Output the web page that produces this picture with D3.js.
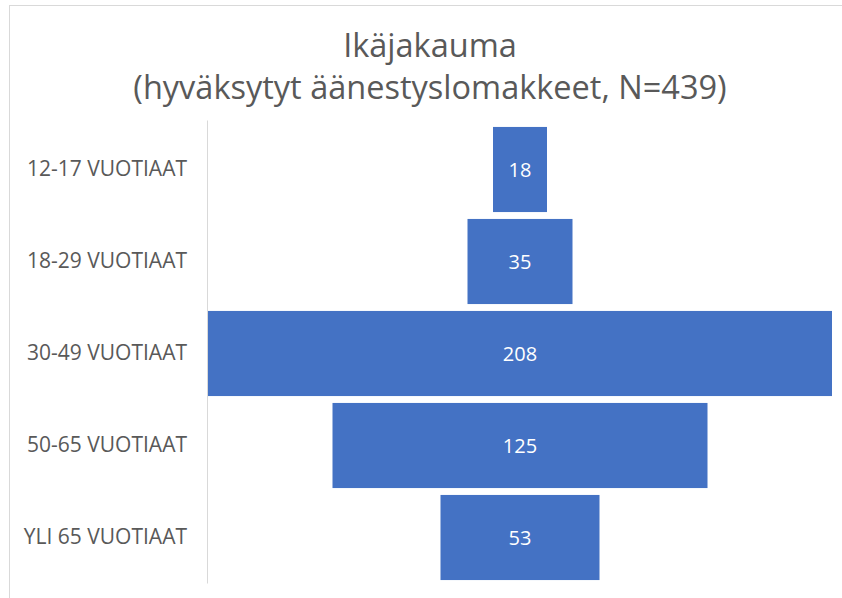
<!DOCTYPE html>
<html>
<head>
<meta charset="utf-8">
<script src="https://cdn.jsdelivr.net/npm/d3@7"></script>
<style>
  body{margin:0;background:#fff;}
  text{font-family:"Open Sans","Noto Sans",sans-serif;}
</style>
</head>
<body>
<div id="chart"></div>
<script>
// chart data
const categories=["12-17 VUOTIAAT","18-29 VUOTIAAT","30-49 VUOTIAAT","50-65 VUOTIAAT","YLI 65 VUOTIAAT"]
const values=[18,35,208,125,53]
const titleLines=["Ikäjakauma","(hyväksytyt äänestyslomakkeet, N=439)"]

const width=842
const height=598
const plotLeft=208, plotRight=832, plotTop=123.5, plotBottom=583.5
const center=(plotLeft+plotRight)/2
const titleX=430

const svg=d3.select("#chart").append("svg").attr("width",width).attr("height",height)

// faint frame around the chart area
svg.append("rect").attr("x",9.5).attr("y",5.5).attr("width",900).attr("height",700)
  .attr("fill","none").attr("stroke","#d9d9d9")

// title
svg.append("text").attr("x",titleX).attr("y",57).attr("text-anchor","middle")
  .attr("fill","#595959").style("font-size","32.5px").text(titleLines[0])
svg.append("text").attr("x",titleX).attr("y",99).attr("text-anchor","middle")
  .attr("fill","#595959").style("font-size","32.5px").text(titleLines[1])

const data=categories.map((c,i)=>({cat:c,val:values[i]}))

const yScale=d3.scaleBand().domain(categories).range([plotTop,plotBottom])
  .paddingInner(0.075).paddingOuter(0.0375)
const xScale=d3.scaleLinear().domain([0,d3.max(values)]).range([0,plotRight-plotLeft])

const yAxis=d3.axisLeft(yScale).tickSize(0).tickPadding(21)
const gy=svg.append("g").attr("transform","translate("+plotLeft+",0)").call(yAxis)
gy.select(".domain").attr("stroke","#d9d9d9").attr("d","M-0.5,"+(plotTop-3)+"V"+(plotBottom))
gy.selectAll("text").attr("fill","#595959").style("font-size","21px")
  .style("font-family","'Open Sans','Noto Sans',sans-serif")

// funnel bars, centred on the plot
svg.selectAll("rect.bar").data(data).enter().append("rect").attr("class","bar")
  .attr("x",d=>center-xScale(d.val)/2).attr("y",d=>yScale(d.cat))
  .attr("width",d=>xScale(d.val)).attr("height",yScale.bandwidth())
  .attr("fill","#4472c4")

svg.selectAll("text.val").data(data).enter().append("text").attr("class","val")
  .attr("x",center).attr("y",d=>yScale(d.cat)+yScale.bandwidth()/2)
  .attr("dy","0.35em").attr("text-anchor","middle").attr("fill","#fff")
  .style("font-size","20px").text(d=>d.val)
</script>
</body>
</html>
